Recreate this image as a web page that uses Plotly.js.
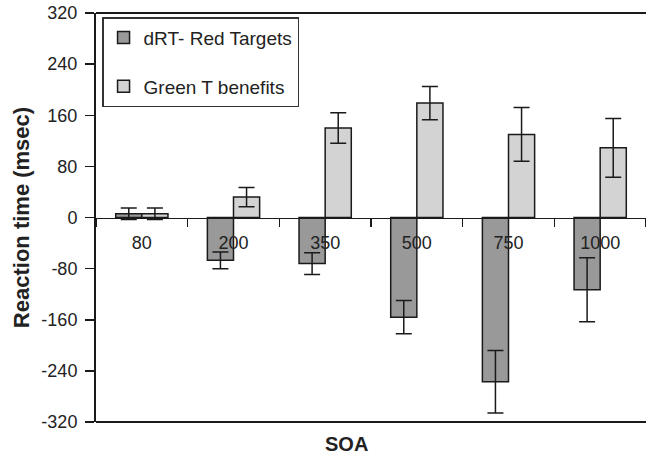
<!DOCTYPE html>
<html>
<head>
<meta charset="utf-8">
<script src="https://cdn.plot.ly/plotly-3.0.1.min.js"></script>
<style>html,body{margin:0;padding:0;background:#fff;}#chart{width:646px;height:458px;}</style>
</head>
<body>
<div id="chart"></div>
<script>
// Data
const soa = ["80", "200", "350", "500", "750", "1000"];
const redTargets = [6, -67, -72, -156, -257, -113];
const redErr = [9, 13, 17, 26, 49, 50];
const greenBenefits = [6, 32, 140, 179, 130, 109];
const greenErr = [9, 15, 24, 26, 42, 46];
const yTicks = [-320, -240, -160, -80, 0, 80, 160, 240, 320];

const FONT = "Liberation Sans, Arial, sans-serif";

const traces = [
  {
    type: "bar", name: "dRT- Red Targets", x: soa, y: redTargets,
    marker: {color: "#999999", line: {color: "#1a1a1a", width: 1.5}},
    error_y: {type: "data", array: redErr, visible: true, color: "#1a1a1a", thickness: 1.5, width: 8},
    legendgroup: "a"
  },
  {
    type: "bar", name: "Green T benefits", x: soa, y: greenBenefits,
    marker: {color: "#d3d3d3", line: {color: "#1a1a1a", width: 1.5}},
    error_y: {type: "data", array: greenErr, visible: true, color: "#1a1a1a", thickness: 1.5, width: 8},
    legendgroup: "b"
  }
];

const layout = {
  width: 646, height: 458,
  margin: {l: 96, r: 0, t: 13, b: 36},
  paper_bgcolor: "#ffffff", plot_bgcolor: "#ffffff",
  font: {family: FONT, size: 18, color: "#222222"},
  barmode: "group", bargap: 0.43, bargroupgap: 0,
  showlegend: true,
  legend: {
    x: 0.011, y: 0.99, xanchor: "left", yanchor: "top",
    bgcolor: "#ffffff", bordercolor: "#333333", borderwidth: 1.5,
    font: {family: FONT, size: 19, color: "#222222"},
    traceorder: "grouped", tracegroupgap: 21, entrywidth: 178
  },
  xaxis: {
    type: "category", anchor: "free", position: 0.5,
    showline: true, linecolor: "#1a1a1a", linewidth: 1.5,
    ticks: "outside", tickson: "boundaries", ticklen: 8, tickcolor: "#1a1a1a", tickwidth: 1.5,
    ticklabelstandoff: 8,
    showgrid: false, zeroline: false,
    tickfont: {family: FONT, size: 18, color: "#222222"}
  },
  yaxis: {
    range: [-320, 320], tickvals: yTicks, ticktext: yTicks.map(String),
    showline: true, linecolor: "#1a1a1a", linewidth: 2,
    ticks: "outside", ticklen: 9, tickcolor: "#1a1a1a", tickwidth: 1.5,
    ticklabelstandoff: 4,
    showgrid: false, zeroline: false,
    tickfont: {family: FONT, size: 18, color: "#222222"},
    title: {text: "<b>Reaction time (msec)</b>", font: {family: FONT, size: 22, color: "#222222"}, standoff: 6}
  },
  shapes: [
    {type: "line", xref: "paper", yref: "paper", x0: 0, x1: 1, y0: 1, y1: 1, line: {color: "#1a1a1a", width: 2}},
    {type: "line", xref: "paper", yref: "paper", x0: 0, x1: 1, y0: 0, y1: 0, line: {color: "#1a1a1a", width: 2}}
  ],
  annotations: [
    {text: "<b>SOA</b>", xref: "paper", yref: "paper", x: 0.456, y: 0, yshift: -22, yanchor: "middle", showarrow: false,
     font: {family: FONT, size: 20, color: "#222222"}}
  ]
};

Plotly.newPlot("chart", traces, layout, {displayModeBar: false, staticPlot: true});
</script>
</body>
</html>
